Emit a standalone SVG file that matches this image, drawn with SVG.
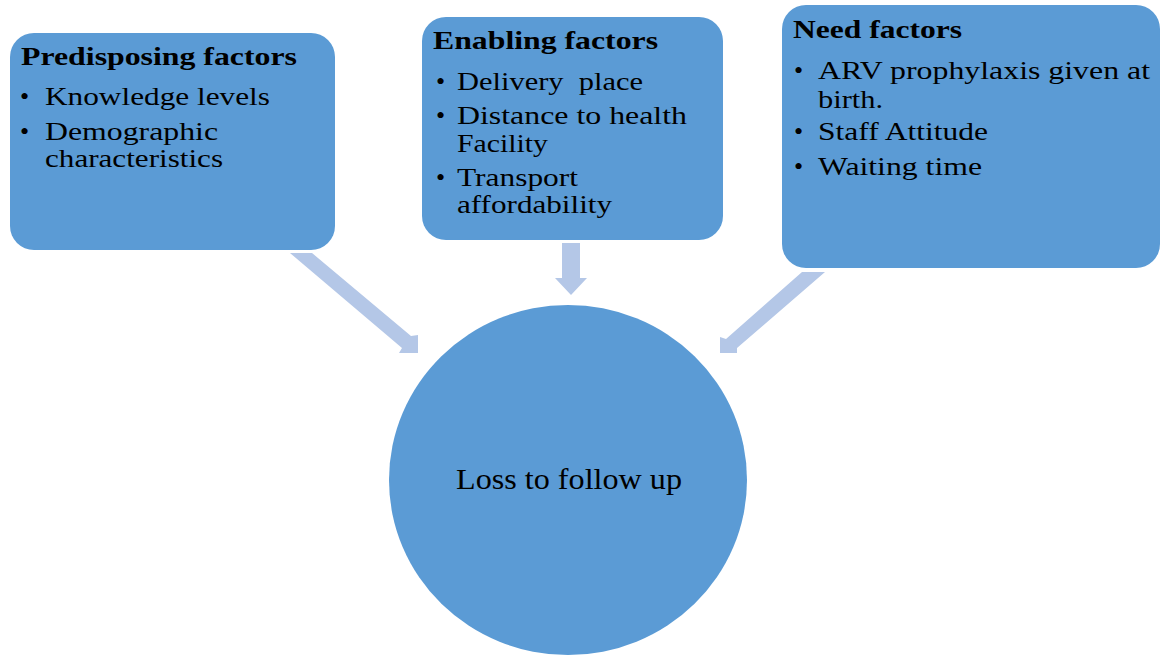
<svg xmlns="http://www.w3.org/2000/svg" width="1161" height="656" viewBox="0 0 1161 656">
  <style>
    .box { fill: #5b9bd5; }
    .arrow { fill: #b4c7e7; }
    text { font-family: "Liberation Serif", "Times New Roman", serif; fill: #000000; }
    .title { font-size: 26px; font-weight: bold; }
    .item { font-size: 26px; }
    .center { font-size: 29px; }
  </style>
  <rect width="1161" height="656" fill="#ffffff"/>

  <!-- block arrows pointing into the central outcome -->
  <g id="connectors">
    <polygon class="arrow" points="290,253 312,253 411,336 418,335 418,353 399,353 402,348"/>
    <polygon class="arrow" points="562,243 580,243 580,278 587,278 571,295 555,278 562,278"/>
    <polygon class="arrow" points="802,272 825,272 737,348 737,353 720,353 720,337 726,339"/>
  </g>

  <g id="predisposing">
    <rect class="box" x="10" y="33" width="325" height="217" rx="24"/>
    <text class="title" x="21" y="65" textLength="276" lengthAdjust="spacingAndGlyphs">Predisposing factors</text>
    <text class="item" x="20" y="105">•</text>
    <text class="item" x="45" y="105" textLength="225" lengthAdjust="spacingAndGlyphs">Knowledge levels</text>
    <text class="item" x="20" y="140">•</text>
    <text class="item" x="45" y="140" textLength="173" lengthAdjust="spacingAndGlyphs">Demographic</text>
    <text class="item" x="45" y="167" textLength="178" lengthAdjust="spacingAndGlyphs">characteristics</text>
  </g>

  <g id="enabling">
    <rect class="box" x="422" y="17" width="301" height="223" rx="24"/>
    <text class="title" x="433" y="49" textLength="225" lengthAdjust="spacingAndGlyphs">Enabling factors</text>
    <text class="item" x="436" y="90">•</text>
    <text class="item" x="457" y="90" textLength="186" lengthAdjust="spacingAndGlyphs" xml:space="preserve">Delivery  place</text>
    <text class="item" x="436" y="124">•</text>
    <text class="item" x="457" y="124" textLength="230" lengthAdjust="spacingAndGlyphs">Distance to health</text>
    <text class="item" x="457" y="152" textLength="91" lengthAdjust="spacingAndGlyphs">Facility</text>
    <text class="item" x="436" y="186">•</text>
    <text class="item" x="457" y="186" textLength="121" lengthAdjust="spacingAndGlyphs">Transport</text>
    <text class="item" x="457" y="213" textLength="155" lengthAdjust="spacingAndGlyphs">affordability</text>
  </g>

  <g id="need">
    <rect class="box" x="782" y="5" width="378" height="263" rx="24"/>
    <text class="title" x="793" y="38" textLength="169" lengthAdjust="spacingAndGlyphs">Need factors</text>
    <text class="item" x="794" y="79">•</text>
    <text class="item" x="818" y="79" textLength="332" lengthAdjust="spacingAndGlyphs">ARV prophylaxis given at</text>
    <text class="item" x="818" y="108" textLength="65" lengthAdjust="spacingAndGlyphs">birth.</text>
    <text class="item" x="794" y="140">•</text>
    <text class="item" x="818" y="140" textLength="170" lengthAdjust="spacingAndGlyphs">Staff Attitude</text>
    <text class="item" x="794" y="175">•</text>
    <text class="item" x="818" y="175" textLength="164" lengthAdjust="spacingAndGlyphs">Waiting time</text>
  </g>

  <g id="outcome">
    <ellipse class="box" cx="568" cy="480" rx="179" ry="175"/>
    <text class="center" x="456" y="489" textLength="226" lengthAdjust="spacingAndGlyphs">Loss to follow up</text>
  </g>
</svg>
